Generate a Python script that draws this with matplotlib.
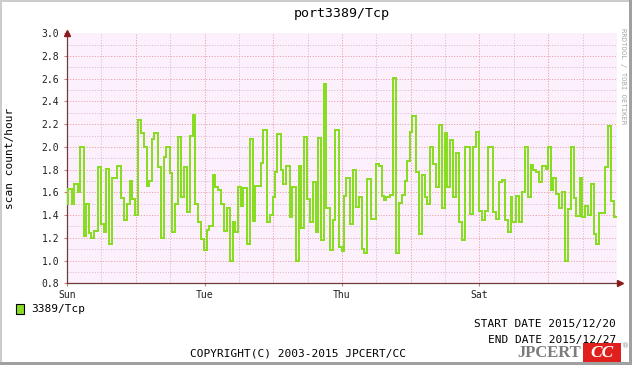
import matplotlib
matplotlib.use("Agg")
import matplotlib.pyplot as plt
from matplotlib.patches import Rectangle
from matplotlib.ticker import MultipleLocator, FixedLocator, FixedFormatter

# step start times (hours since 2015/12/20 00:00) and scan counts per hour
step_hours = [
    0, 0.35, 1.75, 2.55, 3.84, 4.65, 6.04, 6.64, 7.58, 8.49, 9.54, 10.72, 11.98,
    12.93, 13.73, 14.78, 15.72, 17.47, 18.86, 19.91, 20.86, 21.9, 22.71, 23.86,
    24.8, 25.96, 26.79, 27.95, 28.75, 29.69, 30.5, 31.69, 32.84, 33.89, 34.69,
    35.98, 36.68, 37.62, 38.67, 39.82, 40.87, 41.82, 43.07, 43.91, 44.82, 45.76,
    46.92, 47.86, 48.8, 49.71, 50.9, 51.6, 52.75, 53.8, 54.85, 55.79, 56.94,
    57.99, 58.79, 59.63, 60.79, 61.59, 62.78, 63.93, 64.98, 65.78, 67.67, 68.58,
    69.76, 70.81, 71.86, 72.77, 73.47, 74.65, 75.56, 76.61, 77.8, 78.71, 79.89,
    80.94, 81.75, 82.69, 83.74, 84.89, 85.94, 86.99, 87.79, 88.73, 89.68, 90.58,
    91.77, 92.82, 93.73, 94.91, 96.07, 96.77, 97.57, 98.76, 99.81, 100.72,
    101.9, 103.06, 103.75, 104.8, 105.95, 107.7, 109.0, 110.04, 110.64, 111.44,
    112.59, 113.78, 114.93, 115.88, 117.03, 117.97, 118.78, 119.72, 120.52,
    121.68, 122.86, 123.77, 124.96, 125.76, 126.71, 127.75, 128.66, 129.85,
    131.0, 131.8, 132.75, 133.69, 134.74, 135.65, 136.84, 137.74, 138.93,
    140.54, 141.73, 142.64, 143.82, 144.98, 145.92, 147.07, 148.82, 149.62,
    150.81, 151.72, 152.91, 153.96, 154.86, 155.46, 156.61, 157.8, 158.95,
    159.89, 161.04, 161.85, 162.69, 163.6, 164.78, 165.94, 167.09, 167.79,
    169.08, 169.68, 170.72, 171.63, 172.82, 173.97, 175.02, 176.07, 177.11,
    177.71, 178.96, 179.91, 180.96, 181.76, 182.95, 183.86, 184.69, 185.85,
    187.7, 188.89, 189.94, 191.09,
]
step_values = [
    1.50, 1.63, 1.50, 1.67, 1.60, 2.00, 1.22, 1.50, 1.24, 1.20, 1.26, 1.82, 1.32,
    1.25, 1.81, 1.15, 1.73, 1.83, 1.55, 1.36, 1.50, 1.70, 1.54, 1.40,
    2.24, 2.12, 2.00, 1.66, 1.70, 2.07, 2.12, 1.82, 1.20, 1.91, 2.00,
    1.77, 1.25, 1.50, 2.09, 1.56, 1.82, 1.43, 2.10, 2.28, 1.50, 1.34,
    1.19, 1.09, 1.27, 1.30, 1.75, 1.65, 1.62, 1.50, 1.26, 1.46, 1.00,
    1.34, 1.25, 1.65, 1.48, 1.64, 1.15, 2.07, 1.35, 1.66, 1.86, 2.15,
    1.34, 1.40, 1.56, 1.78, 2.11, 1.80, 1.67, 1.83, 1.38, 1.65, 1.00,
    1.83, 1.29, 2.09, 1.54, 1.34, 1.69, 1.25, 2.08, 1.18, 2.55, 1.46,
    1.09, 1.36, 2.15, 1.12, 1.08, 1.57, 1.73, 1.32, 1.80, 1.47,
    1.56, 1.10, 1.07, 1.72, 1.37, 1.85, 1.83, 1.57, 1.53, 1.56,
    1.58, 2.61, 1.07, 1.51, 1.58, 1.70, 1.88, 2.13, 2.27,
    1.78, 1.23, 1.75, 1.56, 1.50, 2.00, 1.85, 1.65, 2.19,
    1.46, 2.12, 1.65, 2.06, 1.56, 1.95, 1.34, 1.18, 2.00,
    1.41, 2.00, 2.13, 1.44, 1.36, 1.44, 2.00, 1.43, 1.37,
    1.69, 1.71, 1.36, 1.25, 1.56, 1.34, 1.57, 1.34, 1.60,
    2.00, 1.56, 1.84, 1.80, 1.78, 1.69, 1.83, 1.81, 2.00,
    1.62, 1.73, 1.59, 1.46, 1.60, 1.00, 1.45, 2.00, 1.55,
    1.39, 1.73, 1.38, 1.48, 1.40, 1.67, 1.23, 1.15, 1.42,
    1.82, 2.18, 1.52, 1.38,
]
end_hour = 192
day_ticks = [0, 48, 96, 144]
day_labels = ["Sun", "Tue", "Thu", "Sat"]

W, H = 632, 365
MONO = "DejaVu Sans Mono"


def fx(x):
    return x / W


def fy(y):
    return 1 - y / H


fig = plt.figure(figsize=(W / 100, H / 100), dpi=100, facecolor="white")
ax = fig.add_axes([fx(67), fy(283.3), fx(617) - fx(67), fy(33.3) - fy(283.3)])
ax.set_facecolor("#fdf0fd")

ax.stairs(step_values, step_hours + [end_hour], color="#88dd22", lw=1.45,
          baseline=None, zorder=3)

ax.set_xlim(0, end_hour)
ax.set_ylim(0.8, 3.0)

# grid like rrdtool: minor (12h / 0.1) and major (24h / 0.2)
ax.xaxis.set_major_locator(FixedLocator(day_ticks))
ax.xaxis.set_major_formatter(FixedFormatter(day_labels))
ax.yaxis.set_major_locator(MultipleLocator(0.2))
ax.yaxis.set_major_formatter(plt.FormatStrFormatter("%.1f"))
MAJ, MIN = "#e8a2ac", "#dcbcd2"
for h in range(12, end_hour, 12):
    ax.axvline(h, color=MAJ if h % 24 == 0 else MIN, lw=0.7,
               ls=(0, (1.2, 1.6)), zorder=1)
for i in range(1, 22):
    v = 0.8 + i * 0.1
    ax.axhline(v, color=MAJ if i % 2 == 0 else MIN, lw=0.7,
               ls=(0, (1.2, 1.6)), zorder=1)

for s in ["top", "right"]:
    ax.spines[s].set_visible(False)
for s in ["left", "bottom"]:
    ax.spines[s].set_color("#6e3a3a")
    ax.spines[s].set_linewidth(0.9)
ax.tick_params(axis="both", length=2.5, width=0.8, color="#d77a80",
               labelsize=7, labelcolor="#202020")
ax.tick_params(axis="x", pad=2)
ax.tick_params(axis="y", pad=3)
for lab in ax.get_xticklabels() + ax.get_yticklabels():
    lab.set_family(MONO)

# axis arrows
ax.plot([0], [1.0], marker="^", color="#8b1a1a", ms=4, transform=ax.transAxes,
        clip_on=False, zorder=5)
ax.plot([1.006], [0], marker=">", color="#8b1a1a", ms=4, transform=ax.transAxes,
        clip_on=False, zorder=5)

fig.text(fx(342), fy(13), "port3389/Tcp", ha="center", va="center",
         fontsize=9.5, family=MONO)
fig.text(fx(10), fy(158), "scan count/hour", ha="center", va="center",
         rotation=90, fontsize=8, family=MONO)
fig.text(fx(622.5), fy(28), "RRDTOOL / TOBI OETIKER", ha="center", va="top",
         rotation=270, fontsize=5.2, family=MONO, color="#a8a8a8")

# legend
fig.patches.append(Rectangle((fx(16), fy(314)), fx(8), 10 / H, transform=fig.transFigure,
                             facecolor="#88dd22", edgecolor="black", lw=0.8))
fig.text(fx(31), fy(309), "3389/Tcp", ha="left", va="center", fontsize=8, family=MONO)

fig.text(fx(616), fy(324), "START DATE 2015/12/20", ha="right", va="center",
         fontsize=8, family=MONO)
fig.text(fx(616), fy(340), "END DATE 2015/12/27", ha="right", va="center",
         fontsize=8, family=MONO)
fig.text(fx(298), fy(353), "COPYRIGHT(C) 2003-2015 JPCERT/CC", ha="center",
         va="center", fontsize=8, family=MONO)

# logo
fig.text(fx(581), fy(353), "JPCERT", ha="right", va="center", fontsize=12,
         family="Liberation Serif", weight="bold", color="#7c7c7c")
fig.patches.append(Rectangle((fx(583), fy(362)), fx(38), 19 / H, transform=fig.transFigure,
                             facecolor="#e0201c", edgecolor="none"))
fig.text(fx(602), fy(353), "CC", ha="center", va="center", fontsize=12.5,
         family="Liberation Serif", weight="bold", style="italic", color="white")
fig.text(fx(626), fy(346), "\u00ae", ha="center", va="center", fontsize=5,
         color="#888888")

# frame
fig.patches.append(Rectangle((0, 0), fx(2), 1, transform=fig.transFigure,
                             facecolor="#cccccc", edgecolor="none"))
fig.patches.append(Rectangle((0, fy(2)), 1, 2 / H, transform=fig.transFigure,
                             facecolor="#cccccc", edgecolor="none"))
fig.patches.append(Rectangle((fx(629), 0), fx(3), 1, transform=fig.transFigure,
                             facecolor="#a0a0a0", edgecolor="none"))
fig.patches.append(Rectangle((0, 0), 1, 3 / H, transform=fig.transFigure,
                             facecolor="#a0a0a0", edgecolor="none"))

fig.savefig("out.png", dpi=100, facecolor="white")
